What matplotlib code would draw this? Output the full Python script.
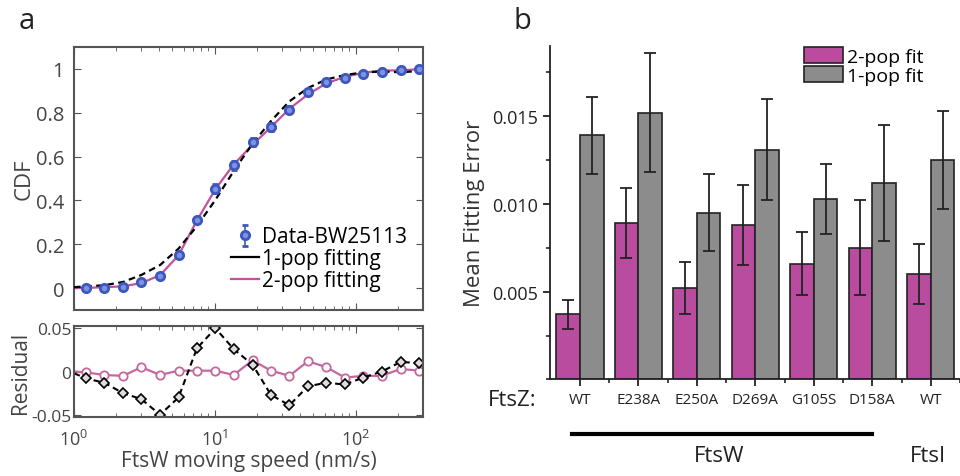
import numpy as np
import matplotlib
matplotlib.use('Agg')
import matplotlib.pyplot as plt
from matplotlib.lines import Line2D
from matplotlib.ticker import LogLocator, NullFormatter, MultipleLocator

plt.rcParams['font.family'] = ['Open Sans', 'DejaVu Sans']

# ---- painel a: CDF da velocidade
speed = [1.22, 1.64, 2.23, 3.01, 4.08, 5.52, 7.46, 10.1, 13.6, 18.5,
         25.0, 33.8, 45.8, 61.9, 83.7, 113, 153, 208, 281]
cdf = [0.0, 0.0, 0.003, 0.028, 0.055, 0.15, 0.31, 0.453, 0.56, 0.667,
       0.735, 0.813, 0.896, 0.939, 0.957, 0.977, 0.988, 0.996, 1.0]
cdf_err = [0.004, 0.004, 0.005, 0.008, 0.01, 0.012, 0.015, 0.02, 0.02, 0.02,
           0.018, 0.016, 0.012, 0.01, 0.008, 0.006, 0.005, 0.004, 0.003]
resid_1pop = [-0.008, -0.013, -0.025, -0.032, -0.05, -0.030, 0.027, 0.05, 0.026, 0.008,
              -0.027, -0.039, -0.017, -0.013, -0.015, -0.007, 0.0, 0.011, 0.010]
resid_2pop = [-0.001, -0.004, -0.005, 0.005, -0.004, 0.001, 0.001, 0.001, -0.004, 0.013,
              0.001, -0.005, 0.012, 0.005, -0.007, -0.005, -0.005, 0.003, 0.001]

# ponto de partida das curvas ajustadas (borda x = 1)
x_start = 1.0
fit1_start, fit2_start = 0.004, 0.0
res1_start, res2_start = -0.002, 0.0

# ---- painel b: erro medio de ajuste
mutantes = ['WT', 'E238A', 'E250A', 'D269A', 'G105S', 'D158A', 'WT']
erro_2pop = [0.0037, 0.0089, 0.0052, 0.0088, 0.0066, 0.0075, 0.0060]
erro_2pop_sd = [0.0008, 0.0020, 0.0015, 0.0023, 0.0018, 0.0027, 0.0017]
erro_1pop = [0.0139, 0.0152, 0.0095, 0.0131, 0.0103, 0.0112, 0.0125]
erro_1pop_sd = [0.0022, 0.0034, 0.0022, 0.0029, 0.0020, 0.0033, 0.0028]

azul = '#3d57bd'
rosa = '#c2529f'
rosa_res = '#c4689f'
cinza_eixo = '#555555'
cor_txt = '#444444'

fig = plt.figure(figsize=(9.6, 4.77), dpi=100)

ax1 = fig.add_axes([0.0771, 0.348, 0.3635, 0.5514])
ax2 = fig.add_axes([0.0771, 0.123, 0.3635, 0.192])
ax3 = fig.add_axes([0.5729, 0.2025, 0.4271, 0.699])

sp = np.array(speed)
fit1 = np.array(cdf) - np.array(resid_1pop)
fit2 = np.array(cdf) - np.array(resid_2pop)
xs = np.concatenate([[x_start], sp])

ax1.plot(xs, np.concatenate([[fit2_start], fit2]), color=rosa, lw=1.6, zorder=2)
ax1.plot(xs, np.concatenate([[fit1_start], fit1]), color='black', lw=1.6, ls=(0, (3, 2)), zorder=3)
eb = ax1.errorbar(sp, cdf, yerr=cdf_err, fmt='o', color=azul, ms=6, mfc='#7d93e0',
                  mec=azul, mew=2, capsize=2, elinewidth=1.2, zorder=4)

for ax in (ax1, ax2):
    ax.set_xscale('log')
    ax.set_xlim(1, 300)
    ax.tick_params(which='both', direction='in', top=True, right=True,
                   colors=cinza_eixo, labelcolor=cor_txt, labelsize=11.5)
    ax.tick_params(which='major', length=5)
    ax.tick_params(which='minor', length=3)
    ax.xaxis.set_major_locator(LogLocator(base=10, numticks=5))
    ax.xaxis.set_minor_locator(LogLocator(base=10, subs=np.arange(2, 10), numticks=10))
    ax.xaxis.set_minor_formatter(NullFormatter())
    for s in ax.spines.values():
        s.set_color(cinza_eixo)
        s.set_linewidth(1.5)

ax1.set_ylim(-0.1, 1.1)
ax1.set_yticks([0, 0.2, 0.4, 0.6, 0.8, 1])
ax1.set_yticklabels(['0', '0.2', '0.4', '0.6', '0.8', '1'])
ax1.tick_params(axis='y', labelsize=14.5, pad=7)
ax1.xaxis.set_major_formatter(NullFormatter())
ax1.set_ylabel('CDF', fontsize=16, color=cor_txt, labelpad=1)

handles = [eb, Line2D([], [], color='black', lw=1.6), Line2D([], [], color=rosa, lw=1.6)]
ax1.legend(handles, ['Data-BW25113', '1-pop fitting', '2-pop fitting'], loc='lower right',
           bbox_to_anchor=(0.995, 0.015), frameon=False, fontsize=15, handlelength=1.3,
           handletextpad=0.15, labelspacing=0.05, borderaxespad=0.3)

ax2.plot(xs, np.concatenate([[res2_start], resid_2pop]), color=rosa_res, lw=1.6,
         marker='o', ms=6, mfc='white', mec=rosa_res, mew=1.3, markevery=list(range(1, 20)))
ax2.plot(xs, np.concatenate([[res1_start], resid_1pop]), color='black', lw=1.5, ls=(0, (3, 2)),
         marker='D', ms=5, mfc='#dddddd', mec='black', mew=1.2, markevery=list(range(1, 20)))
ax2.set_ylim(-0.053, 0.053)
ax2.set_yticks([-0.05, 0, 0.05])
ax2.set_yticklabels(['-0.05', '0', '0.05'])
ax2.tick_params(axis='y', labelsize=12.5, pad=2)
ax2.tick_params(axis='x', labelsize=13, pad=8)
ax2.set_ylabel('Residual', fontsize=15, color=cor_txt, labelpad=0)
ax2.set_xlabel('FtsW moving speed (nm/s)', fontsize=15, color=cor_txt, labelpad=1)

fig.text(0.019, 0.955, 'a', fontsize=21, color='#222222', va='center')
fig.text(0.535, 0.955, 'b', fontsize=21, color='#222222', va='center')

# ---- barras
pos = np.arange(len(mutantes))
w = 0.405
ax3.bar(pos - w / 2, erro_2pop, w, color='#b94c9f', edgecolor='#222222', lw=1.2,
        label='2-pop fit', zorder=2)
ax3.bar(pos + w / 2, erro_1pop, w, color='#8c8c8c', edgecolor='#222222', lw=1.2,
        label='1-pop fit', zorder=2)
ax3.errorbar(pos - w / 2, erro_2pop, yerr=erro_2pop_sd, fmt='none', ecolor='#222222',
             elinewidth=1.3, capsize=4, capthick=1.3, zorder=3)
ax3.errorbar(pos + w / 2, erro_1pop, yerr=erro_1pop_sd, fmt='none', ecolor='#222222',
             elinewidth=1.3, capsize=4, capthick=1.3, zorder=3)

ax3.set_xlim(-0.51, 6.42)
ax3.set_ylim(0, 0.019)
ax3.set_yticks([0.005, 0.010, 0.015])
ax3.set_yticklabels(['0.005', '0.010', '0.015'])
ax3.yaxis.set_minor_locator(MultipleLocator(0.0025))
ax3.set_xticks(pos)
ax3.set_xticklabels([])
ax3.set_xticks(pos + 0.5, minor=True)
ax3.spines['top'].set_visible(False)
ax3.spines['right'].set_visible(False)
for s in ('left', 'bottom'):
    ax3.spines[s].set_color('#222222')
    ax3.spines[s].set_linewidth(1.3)
ax3.tick_params(which='both', direction='out', colors='#222222', labelsize=13)
ax3.tick_params(which='major', length=5, width=1.3)
ax3.tick_params(which='minor', length=3, width=1.2)
ax3.set_ylabel('Mean Fitting Error', fontsize=16, color='#333333', labelpad=5)

trans = ax3.get_xaxis_transform()
for p, lab in zip(pos, mutantes):
    ax3.text(p, -0.059, lab, transform=trans, ha='center', va='center', fontsize=11,
             color='#222222')
ax3.text(-0.74, -0.059, 'FtsZ:', transform=trans, ha='right', va='center', fontsize=16,
         color='#222222')
ax3.plot([-0.13, 5.0], [-0.164, -0.164], transform=trans, color='black', lw=3,
         clip_on=False)
ax3.text(2.39, -0.227, 'FtsW', transform=trans, ha='center', va='center', fontsize=16,
         color='#222222')
ax3.text(5.95, -0.227, 'FtsI', transform=trans, ha='center', va='center', fontsize=16,
         color='#222222')

ax3.legend(loc='upper left', bbox_to_anchor=(0.6, 1.02), frameon=False, fontsize=14,
           handlelength=2.0, handleheight=0.9, handletextpad=0.2, labelspacing=0.0,
           borderaxespad=0)

plt.savefig('out.png', dpi=100)
